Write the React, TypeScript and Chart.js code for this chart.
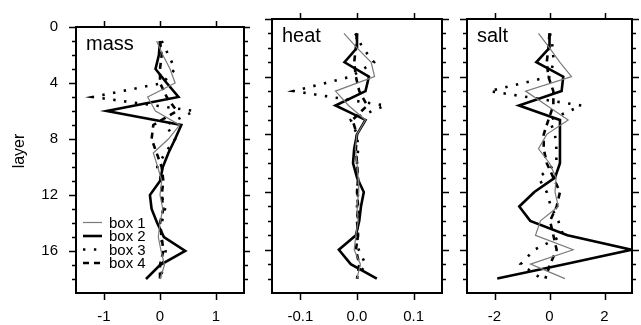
import React, { useEffect, useRef } from "react";
import { Chart, registerables } from "chart.js";

Chart.register(...registerables);

const FONT = '"Liberation Sans", Arial, Helvetica, sans-serif';

// layers (y values)
const layers = [1, 2, 3, 4, 5, 6, 7, 8, 9, 10, 11, 12, 13, 14, 15, 16, 17, 18];
const layerTicks = [0, 4, 8, 12, 16];
const seriesNames = ["box 1", "box 2", "box 3", "box 4"];

// mass
const massTicks = [-1, 0, 1];
const massBox1 = [-0.06, 0.05, 0.18, 0.27, -0.22, -0.08, 0.35, 0.15, -0.12, -0.04, 0.03, 0.0, 0.05, 0.0, -0.03, 0.02, 0.08, 0.0];
const massBox2 = [0.0, -0.02, -0.08, 0.12, 0.33, -0.95, 0.38, 0.27, 0.15, 0.05, 0.0, -0.18, -0.15, -0.05, 0.07, 0.45, 0.0, -0.25];
const massBox3 = [0.03, 0.15, 0.27, 0.05, -1.2, 0.62, 0.1, 0.27, 0.09, -0.05, 0.03, 0.03, 0.09, 0.03, 0.0, 0.1, 0.05, 0.02];
const massBox4 = [0.0, 0.03, 0.0, 0.0, 0.12, 0.3, -0.12, -0.15, -0.06, 0.03, 0.06, 0.03, 0.06, 0.0, 0.03, 0.06, 0.0, 0.0];

// heat
const heatTicks = [-0.1, 0, 0.1];
const heatBox1 = [-0.023, 0.0, 0.025, 0.031, -0.038, -0.015, 0.015, 0.0, -0.003, 0.0, 0.002, 0.003, 0.0, 0.002, -0.002, -0.005, 0.006, 0.0];
const heatBox2 = [0.0, 0.0, -0.022, 0.021, 0.015, -0.038, 0.015, 0.0, -0.005, -0.007, 0.0, 0.012, 0.007, 0.004, -0.002, -0.032, -0.011, 0.035];
const heatBox3 = [-0.003, 0.01, 0.03, -0.011, -0.112, 0.05, -0.011, 0.0, 0.002, 0.0, 0.0, 0.002, 0.0, 0.002, 0.0, 0.003, 0.015, 0.0];
const heatBox4 = [0.0, -0.002, -0.005, -0.002, 0.004, 0.018, -0.008, 0.0, -0.002, 0.0, 0.002, 0.0, 0.002, 0.0, 0.002, -0.002, 0.004, 0.0];

// salt
const saltTicks = [-2, 0, 2];
const saltBox1 = [-0.4, 0.0, 0.38, 0.8, -0.87, -0.1, 0.68, -0.1, -0.4, 0.0, 0.24, 0.2, 0.32, -0.33, -0.51, 0.86, -0.69, 0.56];
const saltBox2 = [0.0, 0.0, -0.48, 0.5, 0.44, -1.11, 0.38, 0.38, 0.38, 0.38, 0.2, -0.55, -1.1, -0.7, 0.65, 2.98, 0.55, -1.9];
const saltBox3 = [0.02, 0.12, 0.15, 0.0, -2.18, 1.16, 0.0, 0.2, 0.25, 0.25, -0.4, -0.1, 0.05, 0.32, 0.5, -0.55, -1.05, -0.3];
const saltBox4 = [0.0, -0.04, -0.1, -0.04, 0.14, 0.14, -0.04, -0.21, -0.21, -0.1, 0.14, 0.38, 0.26, 0.02, 0.14, 0.26, 0.02, -0.15];

const styles = [
  { borderColor: "#7a7a7a", borderWidth: 1.2, borderDash: [] as number[] },
  { borderColor: "#000000", borderWidth: 2.6, borderDash: [] as number[] },
  { borderColor: "#000000", borderWidth: 2.6, borderDash: [2.4, 8.5] },
  { borderColor: "#000000", borderWidth: 2.6, borderDash: [6, 5] },
];

type PanelDef = {
  name: string;
  left: number;
  width: number;
  padLeft: number;
  padRight: number;
  min: number;
  max: number;
  ticks: number[];
  fmt: (v: number) => string;
  series: number[][];
  showY: boolean;
  showLegend: boolean;
};

const panels: PanelDef[] = [
  { name: "mass", left: 0, width: 250, padLeft: 0, padRight: 6, min: -1.5, max: 1.5, ticks: massTicks, fmt: (v) => String(v), series: [massBox1, massBox2, massBox3, massBox4], showY: true, showLegend: true },
  { name: "heat", left: 250, width: 200, padLeft: 22, padRight: 8, min: -0.15, max: 0.15, ticks: heatTicks, fmt: (v) => v.toFixed(1), series: [heatBox1, heatBox2, heatBox3, heatBox4], showY: false, showLegend: false },
  { name: "salt", left: 450, width: 191, padLeft: 17, padRight: 9, min: -3, max: 3, ticks: saltTicks, fmt: (v) => String(v), series: [saltBox1, saltBox2, saltBox3, saltBox4], showY: false, showLegend: false },
];

const H = 325;

function makePlugin(p: PanelDef) {
  return {
    id: "frameDeco",
    afterDraw(chart: any) {
      const { ctx, chartArea: a, scales } = chart;
      const xs = scales.x;
      const ys = scales.y;
      ctx.save();
      ctx.strokeStyle = "#000";
      ctx.lineWidth = 2;
      ctx.strokeRect(a.left, a.top, a.right - a.left, a.bottom - a.top);
      ctx.lineWidth = 1.5;
      ctx.beginPath();
      for (let v = 0; v <= 18; v++) {
        const py = Math.round(ys.getPixelForValue(v)) + 0.5;
        const len = v % 4 === 0 ? 7 : 4;
        ctx.moveTo(a.left - len, py);
        ctx.lineTo(a.left, py);
        ctx.moveTo(a.right, py);
        ctx.lineTo(a.right + len, py);
      }
      for (const t of xs.ticks) {
        const px = Math.round(xs.getPixelForValue(t.value)) + 0.5;
        ctx.moveTo(px, a.top - 6);
        ctx.lineTo(px, a.top);
        ctx.moveTo(px, a.bottom);
        ctx.lineTo(px, a.bottom + 7);
      }
      ctx.stroke();

      // panel name
      ctx.fillStyle = "#000";
      ctx.font = `20px ${FONT}`;
      ctx.textAlign = "left";
      ctx.textBaseline = "alphabetic";
      ctx.fillText(p.name, a.left + 10, a.top + 23);

      if (p.showY) {
        ctx.save();
        ctx.font = `16px ${FONT}`;
        ctx.textAlign = "center";
        ctx.textBaseline = "middle";
        ctx.translate(20, 151);
        ctx.rotate(-Math.PI / 2);
        ctx.fillText("layer", 0, 0);
        ctx.restore();
      }

      if (p.showLegend) {
        ctx.font = `15px ${FONT}`;
        ctx.textAlign = "left";
        ctx.textBaseline = "middle";
        chart.data.datasets.forEach((ds: any, i: number) => {
          const cy = a.bottom - 70.5 + i * 13.5;
          ctx.save();
          ctx.strokeStyle = ds.borderColor;
          ctx.lineWidth = ds.borderWidth;
          ctx.setLineDash(ds.borderDash || []);
          ctx.beginPath();
          ctx.moveTo(a.left + 7, cy);
          ctx.lineTo(a.left + 26, cy);
          ctx.stroke();
          ctx.restore();
          ctx.fillStyle = "#000";
          ctx.fillText(ds.label, a.left + 33, cy + 1);
        });
      }
      ctx.restore();
    },
  };
}

function Panel({ p }: { p: PanelDef }) {
  const ref = useRef<HTMLCanvasElement | null>(null);
  useEffect(() => {
    if (!ref.current) return;
    const chart = new Chart(ref.current, {
      type: "line",
      data: {
        datasets: p.series.map((vals, i) => ({
          label: seriesNames[i],
          data: layers.map((l, j) => ({ x: vals[j], y: l })),
          borderColor: styles[i].borderColor,
          borderWidth: styles[i].borderWidth,
          borderDash: styles[i].borderDash,
          borderCapStyle: "butt",
          borderJoinStyle: "miter",
          pointRadius: 0,
          fill: false,
          tension: 0,
        })),
      },
      options: {
        animation: false,
        responsive: false,
        maintainAspectRatio: false,
        events: [],
        layout: { padding: { left: p.padLeft, right: p.padRight, top: 19, bottom: 0 } },
        plugins: { legend: { display: false }, tooltip: { enabled: false }, title: { display: false } },
        scales: {
          x: {
            type: "linear",
            position: "bottom",
            min: p.min,
            max: p.max,
            grid: { display: false, drawTicks: false },
            border: { display: false },
            ticks: {
              color: "#000",
              font: { family: FONT, size: 15 },
              padding: 15,
              autoSkip: false,
              maxRotation: 0,
              callback: (v: any) => p.fmt(Number(v)),
            },
            afterBuildTicks: (s: any) => {
              s.ticks = p.ticks.map((v) => ({ value: v }));
            },
            afterFit: (s: any) => {
              s.height = 32;
            },
          },
          y: {
            type: "linear",
            display: p.showY,
            reverse: true,
            min: 0,
            max: 19,
            grid: { display: false, drawTicks: false },
            border: { display: false },
            ticks: {
              color: "#000",
              font: { family: FONT, size: 15 },
              padding: 18,
              autoSkip: false,
            },
            afterBuildTicks: (s: any) => {
              s.ticks = layerTicks.map((v) => ({ value: v }));
            },
            afterFit: (s: any) => {
              s.width = p.showY ? 76 : 0;
            },
          },
        },
      },
      plugins: [makePlugin(p)],
    } as any);
    return () => chart.destroy();
  }, [p]);
  return (
    <div style={{ position: "absolute", left: p.left, top: 0, width: p.width, height: H }}>
      <canvas ref={ref} width={p.width} height={H} style={{ width: p.width, height: H, display: "block" }} />
    </div>
  );
}

export default function App() {
  return (
    <div style={{ position: "absolute", left: 0, top: 0, width: 641, height: H, background: "#fff" }}>
      {panels.map((p) => (
        <Panel key={p.name} p={p} />
      ))}
    </div>
  );
}
